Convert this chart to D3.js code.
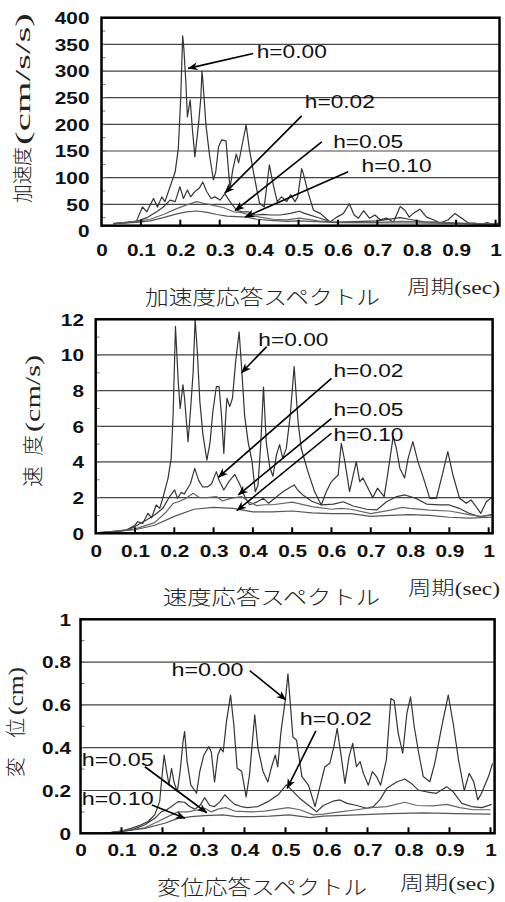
<!DOCTYPE html>
<html>
<head>
  <meta charset="utf-8">
  <script src="https://d3js.org/d3.v7.min.js"></script>
  <style>
    body { margin: 0; background: #fff; }
    svg { display: block; }
    .tick-label { font-family: "Liberation Sans", Arial, sans-serif; font-weight: bold; font-size: 16px; fill: #111; }
    .note { font-family: "Liberation Sans", Arial, sans-serif; font-size: 17.5px; fill: #111; }
    .jp { font-family: "Noto Sans CJK JP", sans-serif; font-weight: 300; fill: #222; }
    .serif { font-family: "Liberation Serif", serif; fill: #222; }
  </style>
</head>
<body>
<script>
  // period axis (sec)
  const periodTicks = [0, 0.1, 0.2, 0.3, 0.4, 0.5, 0.6, 0.7, 0.8, 0.9, 1];
  const accTicks = [0, 50, 100, 150, 200, 250, 300, 350, 400];
  const velTicks = [0, 2, 4, 6, 8, 10, 12];
  const disTicks = [0, 0.2, 0.4, 0.6, 0.8, 1];
  const dampLabels = ["h=0.00", "h=0.02", "h=0.05", "h=0.10"];

  // acceleration response spectra [period, cm/s/s]
  const acc00 = [[0.03,14],[0.06,15],[0.089,19],[0.104,45],[0.115,36],[0.132,61],[0.142,45],[0.153,64],[0.161,55],[0.174,83],[0.187,111],[0.195,155],[0.201,249],[0.206,366],[0.209,342],[0.214,280],[0.218,214],[0.225,246],[0.231,188],[0.237,139],[0.246,199],[0.252,249],[0.255,300],[0.258,274],[0.265,199],[0.274,143],[0.284,96],[0.29,111],[0.297,158],[0.305,171],[0.316,169],[0.326,80],[0.333,114],[0.342,144],[0.348,128],[0.356,158],[0.367,199],[0.375,155],[0.387,105],[0.401,52],[0.413,45],[0.426,124],[0.436,86],[0.446,55],[0.457,64],[0.47,55],[0.48,68],[0.491,55],[0.498,64],[0.508,117],[0.512,108],[0.525,70],[0.538,39],[0.555,33],[0.58,17],[0.597,26],[0.614,33],[0.629,51],[0.641,30],[0.652,24],[0.665,38],[0.68,24],[0.694,30],[0.707,21],[0.724,24],[0.741,17],[0.758,46],[0.77,39],[0.781,26],[0.791,33],[0.808,41],[0.825,26],[0.842,21],[0.859,15],[0.88,21],[0.897,33],[0.914,24],[0.931,15],[0.948,15],[0.965,12],[0.978,16],[0.995,12],[1.007,15]];
  const acc02 = [[0.03,14],[0.089,18],[0.115,25],[0.14,36],[0.157,45],[0.174,58],[0.187,55],[0.199,83],[0.208,61],[0.218,77],[0.226,64],[0.237,74],[0.248,80],[0.257,92],[0.267,74],[0.278,61],[0.288,64],[0.301,58],[0.313,70],[0.326,55],[0.343,39],[0.356,36],[0.373,36],[0.39,30],[0.411,31],[0.428,30],[0.453,30],[0.479,33],[0.502,37],[0.515,33],[0.555,24],[0.588,16],[0.62,17],[0.66,18],[0.7,19],[0.758,25],[0.78,22],[0.82,17],[0.86,16],[0.9,15],[0.95,13],[1.007,12]];
  const acc05 = [[0.03,14],[0.089,18],[0.124,22],[0.157,31],[0.191,42],[0.216,49],[0.242,55],[0.259,52],[0.284,48],[0.309,44],[0.335,36],[0.352,35],[0.377,30],[0.402,26],[0.436,22],[0.47,21],[0.502,24],[0.55,19],[0.6,16],[0.7,16],[0.76,18],[0.8,17],[0.9,15],[1.007,13]];
  const acc10 = [[0.03,14],[0.089,16],[0.124,19],[0.157,25],[0.191,32],[0.216,36],[0.242,37.5],[0.268,35],[0.293,31],[0.318,28],[0.343,27],[0.369,26],[0.394,22],[0.428,20],[0.47,18],[0.502,19],[0.6,15.5],[0.8,15],[1.007,13]];

  // velocity response spectra [period, cm/s]
  const vel00 = [[0.01,0.05],[0.044,0.08],[0.078,0.18],[0.099,0.43],[0.107,0.65],[0.12,0.56],[0.133,1.12],[0.142,0.86],[0.154,1.59],[0.163,1.4],[0.173,2.15],[0.184,3.08],[0.192,4.2],[0.197,6.63],[0.203,11.6],[0.21,8.5],[0.215,7.0],[0.222,8.32],[0.226,7.6],[0.235,5.14],[0.241,6.8],[0.248,9.06],[0.253,12],[0.258,10.4],[0.265,7.4],[0.273,5.5],[0.283,4.1],[0.291,5.1],[0.298,6.8],[0.307,8.22],[0.314,8.22],[0.32,6.64],[0.326,4.48],[0.331,6.6],[0.334,7.57],[0.341,7.1],[0.348,7.57],[0.356,9.6],[0.365,11.3],[0.371,9.4],[0.379,6.6],[0.388,5.1],[0.398,4.0],[0.406,2.33],[0.413,2.7],[0.42,5.0],[0.427,8.2],[0.434,5.1],[0.443,3.7],[0.451,3.2],[0.46,4.4],[0.468,4.97],[0.476,4.2],[0.485,4.76],[0.495,6.6],[0.505,9.35],[0.515,6.26],[0.523,4.77],[0.54,3.46],[0.557,2.34],[0.574,1.59],[0.587,2.34],[0.6,2.9],[0.617,3.27],[0.625,5.05],[0.634,4.02],[0.646,2.34],[0.663,4.02],[0.672,2.9],[0.68,3.1],[0.693,2.53],[0.705,2.0],[0.717,2.53],[0.734,2.06],[0.744,3.46],[0.757,5.42],[0.765,4.77],[0.774,3.65],[0.786,3.1],[0.795,4.2],[0.807,5.14],[0.82,4.02],[0.837,2.9],[0.85,1.96],[0.867,1.96],[0.884,3.46],[0.896,4.58],[0.909,3.27],[0.926,1.96],[0.943,1.68],[0.955,1.87],[0.968,1.49],[0.98,1.12],[0.994,1.77],[1.007,2.0]];
  const vel02 = [[0.01,0.03],[0.078,0.18],[0.099,0.37],[0.129,0.75],[0.15,1.03],[0.171,1.4],[0.188,2.06],[0.201,2.43],[0.208,1.96],[0.218,2.3],[0.225,2.2],[0.241,2.78],[0.252,3.64],[0.262,2.97],[0.272,2.6],[0.284,2.6],[0.295,2.78],[0.307,3.46],[0.314,2.97],[0.326,2.43],[0.339,2.9],[0.354,3.3],[0.366,2.78],[0.379,2.06],[0.392,1.6],[0.41,1.75],[0.427,1.96],[0.44,1.68],[0.477,2.34],[0.505,2.71],[0.515,2.4],[0.53,2.1],[0.55,1.8],[0.575,1.59],[0.605,1.64],[0.63,1.77],[0.655,1.53],[0.69,1.35],[0.715,1.31],[0.74,1.77],[0.766,2.06],[0.787,2.15],[0.815,1.96],[0.842,1.64],[0.875,1.59],[0.9,1.59],[0.925,1.4],[0.95,1.12],[0.978,0.93],[1.007,1.05]];
  const vel05 = [[0.01,0.02],[0.1,0.25],[0.15,0.6],[0.18,1.21],[0.197,1.68],[0.21,1.77],[0.23,1.96],[0.248,2.24],[0.265,2.0],[0.284,2.0],[0.307,2.06],[0.323,1.81],[0.339,1.93],[0.355,2.0],[0.371,2.06],[0.39,1.77],[0.41,1.55],[0.43,1.6],[0.45,1.6],[0.5,1.75],[0.55,1.5],[0.6,1.35],[0.625,1.4],[0.65,1.35],[0.7,1.1],[0.75,1.3],[0.78,1.45],[0.8,1.4],[0.85,1.3],[0.9,1.25],[0.95,1.05],[0.98,0.95],[1.007,1.0]];
  const vel10 = [[0.01,0.02],[0.1,0.2],[0.15,0.45],[0.2,0.95],[0.25,1.35],[0.3,1.45],[0.35,1.4],[0.4,1.2],[0.45,1.2],[0.5,1.25],[0.55,1.15],[0.6,1.1],[0.65,1.1],[0.7,0.95],[0.75,1.0],[0.8,1.05],[0.85,1.0],[0.9,0.9],[0.95,0.85],[1.007,0.9]];

  // displacement response spectra [period, cm]
  const dis00 = [[0.059,0.0],[0.1,0.01],[0.124,0.023],[0.148,0.04],[0.165,0.055],[0.181,0.086],[0.193,0.148],[0.199,0.27],[0.204,0.366],[0.21,0.29],[0.216,0.226],[0.222,0.304],[0.228,0.24],[0.236,0.195],[0.243,0.29],[0.25,0.428],[0.254,0.475],[0.26,0.335],[0.269,0.226],[0.283,0.187],[0.291,0.29],[0.301,0.366],[0.313,0.405],[0.319,0.38],[0.327,0.24],[0.335,0.366],[0.342,0.397],[0.348,0.38],[0.356,0.522],[0.366,0.646],[0.374,0.506],[0.382,0.304],[0.393,0.29],[0.404,0.17],[0.412,0.27],[0.425,0.553],[0.433,0.397],[0.445,0.29],[0.457,0.24],[0.465,0.304],[0.475,0.366],[0.481,0.31],[0.489,0.475],[0.5,0.63],[0.506,0.745],[0.512,0.6],[0.518,0.45],[0.527,0.435],[0.54,0.265],[0.556,0.225],[0.572,0.125],[0.584,0.218],[0.596,0.311],[0.608,0.327],[0.618,0.405],[0.626,0.49],[0.636,0.358],[0.645,0.233],[0.655,0.358],[0.664,0.42],[0.673,0.311],[0.682,0.335],[0.69,0.28],[0.702,0.225],[0.712,0.288],[0.722,0.265],[0.732,0.225],[0.746,0.343],[0.757,0.63],[0.765,0.62],[0.775,0.467],[0.786,0.374],[0.796,0.56],[0.805,0.638],[0.814,0.498],[0.825,0.374],[0.836,0.265],[0.852,0.241],[0.864,0.327],[0.881,0.498],[0.897,0.646],[0.909,0.513],[0.922,0.343],[0.936,0.2],[0.948,0.28],[0.959,0.241],[0.969,0.156],[0.978,0.187],[0.995,0.265],[1.005,0.327]];
  const dis02 = [[0.06,0.0],[0.124,0.015],[0.157,0.04],[0.181,0.07],[0.197,0.1],[0.21,0.11],[0.222,0.125],[0.238,0.148],[0.254,0.145],[0.266,0.125],[0.279,0.113],[0.291,0.13],[0.303,0.167],[0.315,0.13],[0.327,0.125],[0.34,0.148],[0.352,0.18],[0.364,0.156],[0.376,0.135],[0.392,0.125],[0.408,0.12],[0.433,0.125],[0.457,0.148],[0.482,0.18],[0.502,0.226],[0.511,0.21],[0.535,0.163],[0.56,0.125],[0.576,0.1],[0.592,0.13],[0.616,0.15],[0.633,0.156],[0.65,0.14],[0.674,0.13],[0.698,0.117],[0.714,0.125],[0.73,0.156],[0.747,0.21],[0.771,0.24],[0.791,0.254],[0.807,0.233],[0.824,0.202],[0.844,0.194],[0.868,0.187],[0.893,0.218],[0.909,0.194],[0.93,0.14],[0.954,0.125],[0.979,0.12],[1.003,0.135]];
  const dis05 = [[0.06,0.0],[0.157,0.026],[0.189,0.055],[0.213,0.078],[0.238,0.1],[0.262,0.1],[0.287,0.11],[0.303,0.117],[0.319,0.1],[0.335,0.113],[0.354,0.12],[0.376,0.104],[0.417,0.1],[0.449,0.104],[0.482,0.113],[0.506,0.12],[0.535,0.11],[0.568,0.086],[0.592,0.09],[0.633,0.1],[0.674,0.11],[0.71,0.12],[0.747,0.125],[0.791,0.145],[0.82,0.13],[0.86,0.128],[0.893,0.135],[0.925,0.12],[0.958,0.11],[1.0,0.11]];
  const dis10 = [[0.06,0.0],[0.157,0.023],[0.205,0.047],[0.238,0.07],[0.27,0.078],[0.303,0.083],[0.348,0.086],[0.38,0.078],[0.42,0.078],[0.461,0.08],[0.51,0.086],[0.56,0.073],[0.592,0.08],[0.674,0.086],[0.755,0.092],[0.836,0.095],[0.917,0.092],[1.0,0.09]];

  // annotation anchors in data units: label start, arrow tail, arrow tip
  const accNotes = [[[0.394,336],[0.385,333],[0.220,305]], [[0.516,242],[0.508,216],[0.313,71]], [[0.588,167],[0.559,167],[0.339,38]], [[0.660,122],[0.626,111],[0.364,26]]];
  const velNotes = [[[0.414,10.88],[0.435,10.47],[0.371,9.0]], [[0.605,9.1],[0.600,8.69],[0.312,3.14]], [[0.605,6.92],[0.600,6.45],[0.363,2.15]], [[0.605,5.51],[0.600,5.61],[0.359,1.27]]];
  const disNotes = [[[0.222,0.763],[0.413,0.760],[0.501,0.623]], [[0.535,0.537],[0.574,0.479],[0.504,0.210]], [[0.003,0.346],[0.157,0.311],[0.308,0.096]], [[0.003,0.164],[0.174,0.132],[0.255,0.070]]];

  const lineColors = ["#333", "#3a3a3a", "#666", "#555"];
  const SX = 1.3; // the original scan is stretched horizontally

  const svg = d3.select("body").append("svg")
    .attr("width", 505)
    .attr("height", 902);

  svg.append("defs").append("marker")
    .attr("id", "arrow")
    .attr("viewBox", "0 0 10 10")
    .attr("refX", 9.5)
    .attr("refY", 5)
    .attr("markerWidth", 10)
    .attr("markerHeight", 10)
    .attr("markerUnits", "userSpaceOnUse")
    .attr("orient", "auto")
    .append("path")
    .attr("d", "M0,1 L10,5 L0,9 L3,5 Z")
    .attr("fill", "#000");

  // rotated text piece that runs from y=yBottom up to y=yTop
  function verticalText(g, cls, x, yTop, yBottom, size, text) {
    g.append("text")
      .attr("class", cls)
      .attr("transform", `translate(${x},${yBottom}) rotate(-90)`)
      .attr("dy", "0.36em")
      .attr("font-size", size)
      .attr("textLength", yBottom - yTop)
      .attr("lengthAdjust", "spacingAndGlyphs")
      .text(text);
  }

  function drawPanel(p) {
    const x = d3.scaleLinear().domain([0, 1.01]).range([p.x0, p.x1]);
    const y = d3.scaleLinear().domain([0, p.ticks[p.ticks.length - 1]]).range([p.y0, p.yTop]);
    const g = svg.append("g");
    const bottom = y(p.base);
    const left = p.x0, right = p.x1, top = p.yTop;

    // horizontal grid
    g.selectAll(".grid")
      .data(p.ticks.slice(1, -1))
      .join("line")
      .attr("x1", left).attr("x2", right)
      .attr("y1", d => y(d)).attr("y2", d => y(d))
      .attr("stroke", "#444")
      .attr("stroke-width", 1.2);

    // minor ticks on left edge
    const step = p.ticks[1] - p.ticks[0];
    const minor = d3.range(p.ticks[0] + step / 2, p.ticks[p.ticks.length - 1], step / 2)
      .filter(d => y(d) < bottom - 2);
    g.selectAll(".minor")
      .data(minor)
      .join("line")
      .attr("x1", left).attr("x2", left + 4)
      .attr("y1", d => y(d)).attr("y2", d => y(d))
      .attr("stroke", "#777")
      .attr("stroke-width", 1);

    // curves
    const line = d3.line().x(d => x(d[0])).y(d => y(d[1]));
    p.series.forEach((s, i) => {
      g.append("path")
        .datum(s)
        .attr("fill", "none")
        .attr("stroke", lineColors[i])
        .attr("stroke-width", 1.2)
        .attr("stroke-linejoin", "round")
        .attr("d", line);
    });

    // frame
    g.append("rect")
      .attr("x", left).attr("y", top)
      .attr("width", right - left).attr("height", bottom - top)
      .attr("fill", "none")
      .attr("stroke", "#000")
      .attr("stroke-width", 2.5);

    // x tick marks (inside)
    g.selectAll(".xt")
      .data(periodTicks.slice(1))
      .join("line")
      .attr("x1", d => x(d)).attr("x2", d => x(d))
      .attr("y1", bottom).attr("y2", bottom - 6)
      .attr("stroke", "#000")
      .attr("stroke-width", 2);

    // x axis labels
    const xAxis = g.append("g")
      .attr("transform", `translate(0,${bottom})`)
      .call(d3.axisBottom(x).tickValues(periodTicks).tickSize(0)
        .tickFormat(d => (d === 0 || d === 1) ? String(d) : d.toFixed(1)));
    xAxis.select(".domain").remove();
    xAxis.selectAll("text")
      .attr("class", "tick-label")
      .attr("x", 0)
      .attr("y", p.xLabelY - bottom)
      .attr("dy", "0.36em")
      .attr("transform", `scale(${SX},1)`);

    // y axis labels
    const yAxis = g.append("g")
      .attr("transform", `translate(${left},0)`)
      .call(d3.axisLeft(y).tickValues(p.ticks).tickSize(0).tickFormat(p.fmt));
    yAxis.select(".domain").remove();
    yAxis.selectAll("text")
      .attr("class", "tick-label")
      .attr("text-anchor", "end")
      .attr("x", -(left - p.yLabelRight) / SX)
      .attr("dy", "0.36em")
      .attr("transform", `scale(${SX},1)`);

    // annotations
    p.notes.forEach((n, i) => {
      g.append("line")
        .attr("x1", x(n[1][0])).attr("y1", y(n[1][1]))
        .attr("x2", x(n[2][0])).attr("y2", y(n[2][1]))
        .attr("stroke", "#000")
        .attr("stroke-width", 1.6)
        .attr("marker-end", "url(#arrow)");
      g.append("text")
        .attr("class", "note")
        .attr("x", x(n[0][0]))
        .attr("y", y(n[0][1]))
        .attr("dy", "0.36em")
        .attr("textLength", p.noteWidth)
        .attr("lengthAdjust", "spacingAndGlyphs")
        .text(dampLabels[i]);
    });

    // y title: Japanese word and unit as separate rotated pieces
    const t = p.yTitle;
    verticalText(g, "jp", t.x, t.jpTop, t.jpBottom, t.size, t.jp);
    verticalText(g, "serif", t.x, t.unitTop, t.unitBottom, t.size, t.unit);

    // period label
    const pt = g.append("text")
      .attr("x", p.period.x)
      .attr("y", p.period.y)
      .attr("dy", "0.36em")
      .attr("font-size", 19)
      .attr("textLength", p.period.len)
      .attr("lengthAdjust", "spacingAndGlyphs");
    pt.append("tspan").attr("class", "jp").text("周期");
    pt.append("tspan").attr("class", "serif").text("(sec)");

    // caption
    g.append("text")
      .attr("class", "jp")
      .attr("x", p.caption.x)
      .attr("y", p.caption.y)
      .attr("dy", "0.36em")
      .attr("font-size", 20)
      .attr("textLength", p.caption.len)
      .attr("lengthAdjust", "spacingAndGlyphs")
      .text(p.caption.text);
  }

  drawPanel({
    x0: 101.5, x1: 499.5, y0: 231, yTop: 17.7, base: 10,
    ticks: accTicks, fmt: d => String(d), yLabelRight: 89.5, xLabelY: 250,
    series: [acc00, acc02, acc05, acc10], notes: accNotes, noteWidth: 70,
    yTitle: { x: 23, size: 20, jp: "加速度", jpTop: 147, jpBottom: 203, unit: "(cm/s/s)", unitTop: 13, unitBottom: 145 },
    period: { x: 407, y: 287, len: 93 },
    caption: { x: 145, y: 298, len: 235, text: "加速度応答スペクトル" }
  });

  drawPanel({
    x0: 95.7, x1: 492.6, y0: 533.3, yTop: 319.3, base: 0,
    ticks: velTicks, fmt: d => String(d), yLabelRight: 84, xLabelY: 551.7,
    series: [vel00, vel02, vel05, vel10], notes: velNotes, noteWidth: 70,
    yTitle: { x: 32.5, size: 21, jp: "速\u2002度", jpTop: 435, jpBottom: 487, unit: "(cm/s)", unitTop: 355, unitBottom: 432 },
    period: { x: 408, y: 588, len: 92 },
    caption: { x: 163, y: 598, len: 217, text: "速度応答スペクトル" }
  });

  drawPanel({
    x0: 80.5, x1: 494.6, y0: 833.3, yTop: 619.3, base: 0,
    ticks: disTicks, fmt: d => (d === 0 || d === 1) ? String(d) : d.toFixed(1), yLabelRight: 71, xLabelY: 850,
    series: [dis00, dis02, dis05, dis10], notes: disNotes, noteWidth: 72,
    yTitle: { x: 16, size: 20, jp: "変\u3000位", jpTop: 718, jpBottom: 777, unit: "(cm)", unitTop: 667, unitBottom: 715 },
    period: { x: 400, y: 883, len: 95 },
    caption: { x: 157, y: 888, len: 210, text: "変位応答スペクトル" }
  });
</script>
</body>
</html>
